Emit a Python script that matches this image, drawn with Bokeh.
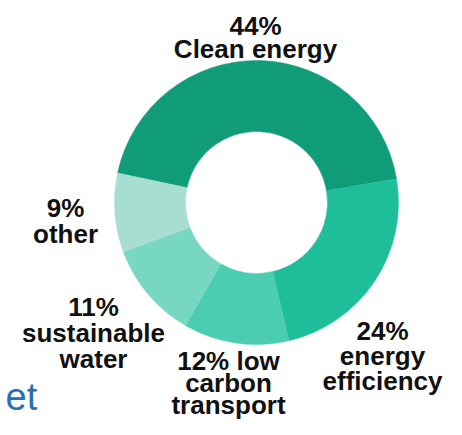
import numpy as np
from bokeh.plotting import figure
from bokeh.models import Range1d, ColumnDataSource
from bokeh.core.properties import value
from bokeh.embed import file_html
from bokeh.resources import INLINE

categories = ["Clean energy", "energy efficiency", "low carbon transport", "sustainable water", "other"]
shares = [44, 24, 12, 11, 9]
colors = ["#109B79", "#1EBE9B", "#4BCDB1", "#78D7C3", "#A7DED1"]

label_lines = [
    ["44%", "Clean energy"],
    ["24%", "energy", "efficiency"],
    ["12% low", "carbon", "transport"],
    ["11%", "sustainable", "water"],
    ["9%", "other"],
]
# label anchor (x centre, first baseline) in page pixels
label_x = [255, 382, 228, 93, 65]
label_y0 = [25, 330, 360, 306, 207]
line_gap = [23, 25, 22, 26, 26]

H = 435
W_PX, H_PX = 446, 419
p = figure(width=W_PX, height=H_PX, output_backend="svg", toolbar_location=None,
           x_range=Range1d(0, W_PX), y_range=Range1d(H - H_PX, H),
           min_border=0)
p.axis.visible = False
p.grid.visible = False
p.outline_line_color = None
p.background_fill_color = "white"

cx, cy = 256, H - 202
start = np.deg2rad(168.0)
frac = np.array(shares, dtype=float) / sum(shares)
ends = start - np.cumsum(frac) * 2 * np.pi
starts = np.concatenate([[start], ends[:-1]])
src = ColumnDataSource(dict(start=ends, end=starts, color=colors, cat=categories))
p.annular_wedge(x=cx, y=cy, inner_radius=71, outer_radius=142,
                start_angle="start", end_angle="end", color="color",
                line_color="color", line_width=0.5, source=src)

xs, ys, ts = [], [], []
for lines, lx, ly, g in zip(label_lines, label_x, label_y0, line_gap):
    for i, t in enumerate(lines):
        xs.append(lx)
        ys.append(H - (ly + i * g))
        ts.append(t)
p.text(x=xs, y=ys, text=ts, text_align="center", text_baseline="alphabetic",
       text_font=value("Liberation Sans"), text_font_style="bold",
       text_font_size="26px", text_color="#111111")

p.text(x=[5], y=[H - 396], text=["et"], text_align="left", text_baseline="alphabetic",
       text_font=value("Liberation Sans"), text_font_size="38px", text_color="#2A6EB4")

open("out.html", "w").write(file_html(p, INLINE))
